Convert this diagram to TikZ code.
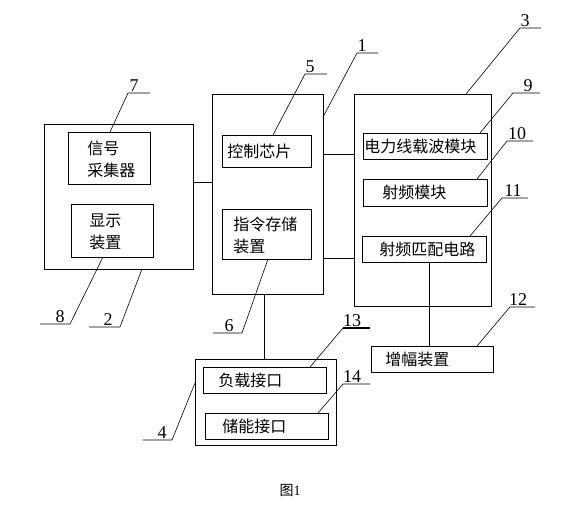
\documentclass[tikz,border=0pt]{standalone}
\usepackage{fontspec}
\setmainfont{Liberation Serif}
\newfontfamily\cjk{Noto Sans CJK SC}
\begin{document}
\begin{tikzpicture}[x=1pt,y=-1pt,line width=0.7pt,
  box/.style={draw,inner sep=0pt,outer sep=0pt},
  txt/.style={anchor=west,inner sep=0pt,align=left,font=\cjk\fontsize{16}{22}\selectfont},
  num/.style={anchor=south,inner sep=1pt,font=\fontsize{18}{18}\selectfont},
  lead/.style={line width=0.6pt}]
\useasboundingbox[fill=white] (0,0) rectangle (579,504);
% boxes
\node[box,minimum width=149pt,minimum height=145pt] (b2) at (118.5,196.5) {};
\node[box,minimum width=82pt,minimum height=52pt] (b7) at (109,158) {};
\node[box,minimum width=82pt,minimum height=53pt] (b8) at (112,230.5) {};
\node[box,minimum width=111pt,minimum height=200pt] (b1) at (267.5,194) {};
\node[box,minimum width=89pt,minimum height=32pt] (b5) at (266.5,151) {};
\node[box,minimum width=89pt,minimum height=50pt] (b6) at (266.5,234) {};
\node[box,minimum width=137pt,minimum height=212pt] (b3) at (422.5,200) {};
\node[box,minimum width=124pt,minimum height=26pt] (b9) at (425,146) {};
\node[box,minimum width=124pt,minimum height=27pt] (b10) at (425,192.5) {};
\node[box,minimum width=124pt,minimum height=26pt] (b11) at (424,249) {};
\node[box,minimum width=122pt,minimum height=26pt] (b12) at (432,359) {};
\node[box,minimum width=141pt,minimum height=86pt] (b4) at (265.5,402) {};
\node[box,minimum width=123pt,minimum height=26pt] (b13) at (264.5,380) {};
\node[box,minimum width=123pt,minimum height=26pt] (b14) at (266.5,426) {};
% texts
\node[txt] (t7) at (87,159.5) {信号\\采集器};
\node[txt] (t8) at (89,232) {显示\\装置};
\node[txt] (t5) at (227,151) {控制芯片};
\node[txt] (t6) at (233,235) {指令存储\\装置};
\node[txt] (t9) at (364,146) {电力线载波模块};
\node[txt] (t10) at (382,192) {射频模块};
\node[txt] (t11) at (379,249) {射频匹配电路};
\node[txt] (t12) at (385,359) {增幅装置};
\node[txt] (t13) at (218,380) {负载接口};
\node[txt] (t14) at (222,426) {储能接口};
\node[font=\cjk\fontsize{14}{14}\selectfont,inner sep=0pt] (cap) at (290,490) {图\fontspec{Liberation Serif}1};
% connectors
\coordinate (y182) at (0,182);
\coordinate (y154) at (0,154);
\coordinate (y258) at (0,258);
\coordinate (x264) at (264,0);
\coordinate (x429) at (429,0);
\draw (b2.east |- y182) -- (b1.west |- y182);
\draw (b1.east |- y154) -- (b3.west |- y154);
\draw (b1.east |- y258) -- (b3.west |- y258);
\draw (b1.south -| x264) -- (b4.north -| x264);
\draw (b11.south -| x429) -- (b12.north -| x429);
% leaders
\coordinate (s7) at (110,132); \coordinate (k7) at (128,93); \coordinate (e7) at (150,93);
\coordinate (s8) at (103,257); \coordinate (k8) at (70,324); \coordinate (e8) at (40,324);
\coordinate (s2) at (142,269); \coordinate (k2) at (120,327); \coordinate (e2) at (89,327);
\coordinate (s5) at (273,135); \coordinate (k5) at (305,74); \coordinate (e5) at (327,74);
\coordinate (s1) at (323,117); \coordinate (k1) at (357,53); \coordinate (e1) at (378,53);
\coordinate (s3) at (466,94); \coordinate (k3) at (520,28); \coordinate (e3) at (541,28);
\coordinate (s9) at (480,133); \coordinate (k9) at (513,93); \coordinate (e9) at (540,93);
\coordinate (s10) at (477,179); \coordinate (k10) at (507,141); \coordinate (e10) at (533,141);
\coordinate (s11) at (470,236); \coordinate (k11) at (502,198); \coordinate (e11) at (528,198);
\coordinate (s12) at (477,346); \coordinate (k12) at (510,307); \coordinate (e12) at (535,307);
\coordinate (s6) at (268,259); \coordinate (k6) at (242,333); \coordinate (e6) at (213,333);
\coordinate (s13) at (310,367); \coordinate (k13) at (343,328); \coordinate (e13) at (370,328);
\coordinate (s14) at (318,413); \coordinate (k14) at (343,384); \coordinate (e14) at (370,384);
\coordinate (s4) at (195,383); \coordinate (k4) at (172,440); \coordinate (e4) at (143,440);
\draw[lead] (s7) -- (k7) -- (e7);
\draw[lead] (s8) -- (k8) -- (e8);
\draw[lead] (s2) -- (k2) -- (e2);
\draw[lead] (s5) -- (k5) -- (e5);
\draw[lead] (s1) -- (k1) -- (e1);
\draw[lead] (s3) -- (k3) -- (e3);
\draw[lead] (s9) -- (k9) -- (e9);
\draw[lead] (s10) -- (k10) -- (e10);
\draw[lead] (s11) -- (k11) -- (e11);
\draw[lead] (s12) -- (k12) -- (e12);
\draw[lead] (s6) -- (k6) -- (e6);
\draw[lead] (s13) -- (k13);
\draw[line width=1.3pt] (k13) -- (e13);
\draw[lead] (s14) -- (k14) -- (e14);
\draw[lead] (s4) -- (k4) -- (e4);
% numbers
\node[num] (n7) at (134,93) {7};
\node[num] (n8) at (60,324) {8};
\node[num] (n2) at (108,327) {2};
\node[num] (n5) at (310,74) {5};
\node[num] (n1) at (362,53) {1};
\node[num] (n3) at (525,28) {3};
\node[num] (n9) at (528,93) {9};
\node[num] (n10) at (517,141) {10};
\node[num] (n11) at (513,198) {11};
\node[num] (n12) at (518,307) {12};
\node[num] (n6) at (229,333) {6};
\node[num] (n13) at (352,328) {13};
\node[num] (n14) at (352,384) {14};
\node[num] (n4) at (162,440) {4};
\end{tikzpicture}
\end{document}
